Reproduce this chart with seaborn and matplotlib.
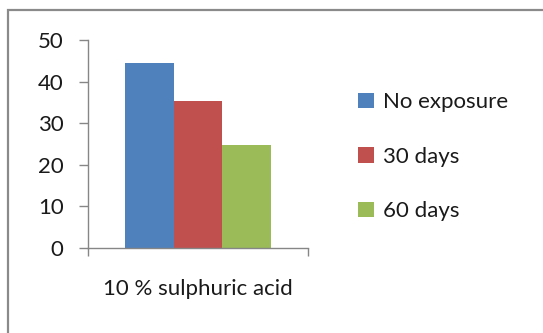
import matplotlib
matplotlib.use("Agg")
import matplotlib.pyplot as plt
from matplotlib.patches import Rectangle
import seaborn as sns
import pandas as pd

categories = ["10 % sulphuric acid"]
series = ["No exposure", "30 days", "60 days"]
values = [44.5, 35.3, 24.8]
colors = ["#4F81BD", "#C0504D", "#9BBB59"]
yticks = [0, 10, 20, 30, 40, 50]

df = pd.DataFrame({
    "category": categories * len(series),
    "series": series,
    "value": values,
})

sns.set_theme(style="white")
plt.rcParams["font.family"] = ["Lato", "DejaVu Sans"]

fig = plt.figure(figsize=(5.43, 3.33), dpi=100)
ax = fig.add_axes([88 / 543, 1 - 248 / 333, 220 / 543, 208 / 333])

sns.barplot(data=df, x="category", y="value", hue="series", palette=colors,
            width=0.664, saturation=1, linewidth=0, ax=ax, legend=True)

axis_grey = "#868686"
text_col = "#1a1a1a"
ax.set_xlim(-0.5, 0.5)
ax.set_ylim(0, 50)
ax.set_yticks(yticks)
ax.set_xlabel("")
ax.set_ylabel("")
for side in ("top", "right"):
    ax.spines[side].set_visible(False)
for side in ("left", "bottom"):
    ax.spines[side].set_color(axis_grey)
    ax.spines[side].set_linewidth(1.0)

ax.tick_params(axis="y", direction="out", length=6.5, width=1, color=axis_grey,
               left=True, pad=11, labelsize=16, labelcolor=text_col)
ax.tick_params(axis="x", which="major", length=0, pad=22, labelsize=16,
               labelcolor=text_col)
ax.set_xticks([-0.5, 0.5], minor=True)
ax.tick_params(axis="x", which="minor", direction="out", length=6, width=1,
               color=axis_grey, bottom=True)

handles, labels = ax.get_legend_handles_labels()
ax.legend(handles, labels, loc="upper left", bbox_to_anchor=(347 / 543, 1 - 81 / 333),
          bbox_transform=fig.transFigure, frameon=False, fontsize=16,
          handlelength=0.7, handleheight=0.7, handletextpad=0.4,
          labelspacing=1.56, borderpad=0, labelcolor=text_col)

# chart-area border
fig.patches.append(Rectangle((8 / 543, -0.2), 1.2, 0.2 + (1 - 10 / 333),
                             transform=fig.transFigure, fill=False,
                             edgecolor="#8a8a8a", linewidth=1.6, zorder=0))

fig.savefig("out.png", dpi=100)
